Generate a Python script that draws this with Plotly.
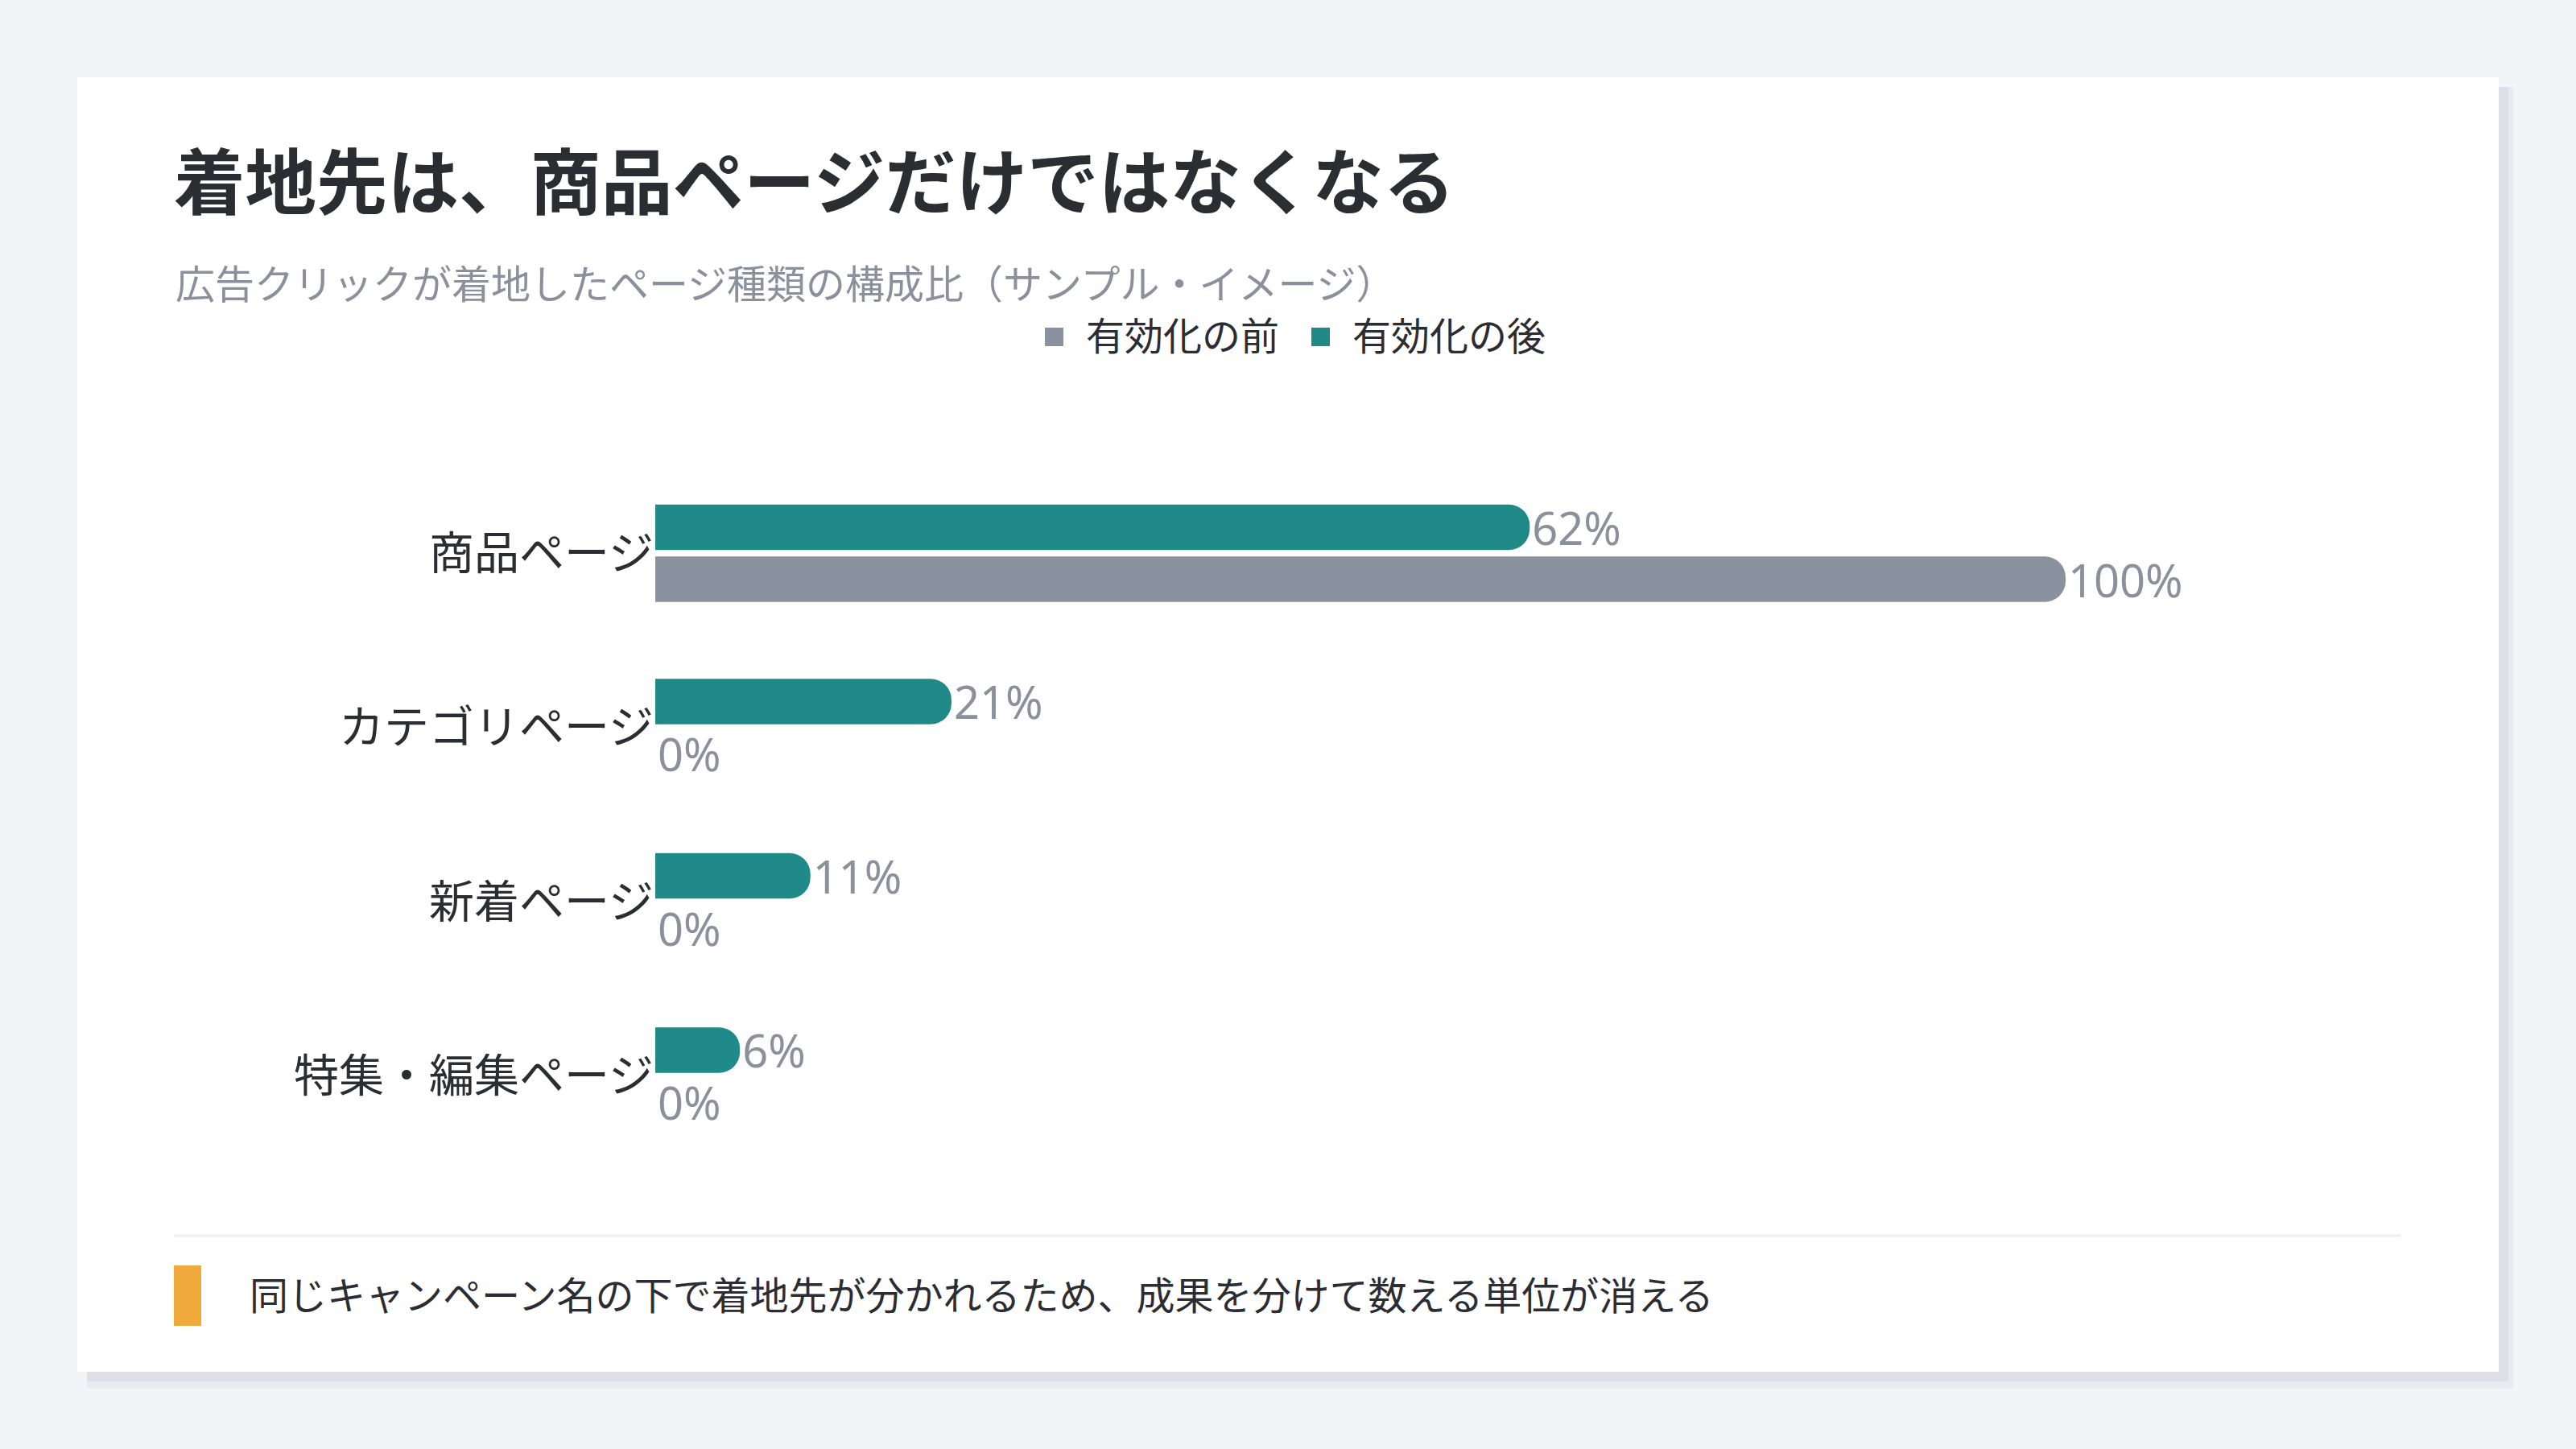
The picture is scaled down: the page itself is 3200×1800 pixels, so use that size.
import plotly.graph_objects as go

W, H = 3200, 1800

categories = ["商品ページ", "カテゴリページ", "新着ページ", "特集・編集ページ"]
before_vals = [100, 0, 0, 0]
after_vals = [62, 21, 11, 6]
series_names = ["有効化の前", "有効化の後"]

title_text = "着地先は、商品ページだけではなくなる"
subtitle_text = "広告クリックが着地したページ種類の構成比（サンプル・イメージ）"
footer_text = "同じキャンペーン名の下で着地先が分かれるため、成果を分けて数える単位が消える"

GRAY = "#8a929f"
TEAL = "#1f8a87"
LABEL = "#8a909c"
DARK = "#2b2d33"
FONT = "Noto Sans CJK JP"


def px(x):
    return x / W


def py(y):
    return 1 - y / H


fig = go.Figure()
for name, vals, col in [(series_names[0], before_vals, GRAY), (series_names[1], after_vals, TEAL)]:
    fig.add_trace(go.Bar(
        y=categories, x=vals, name=name, orientation="h",
        marker=dict(color=col, cornerradius=26, line=dict(width=0)),
        text=[f"{v}%" for v in vals], textposition="outside",
        textfont=dict(size=56, color=LABEL, family="Noto Sans, " + FONT),
        constraintext="none", cliponaxis=False, showlegend=False,
    ))

x0_px = 814
unit = 17.52
xmax = 120
shapes = [
    dict(type="rect", xref="paper", yref="paper", x0=px(108), x1=px(3122), y0=py(1725), y1=py(108),
         fillcolor="#e9ebf0", line=dict(width=0), layer="below"),
    dict(type="rect", xref="paper", yref="paper", x0=px(108), x1=px(3116), y0=py(1716), y1=py(108),
         fillcolor="#dde0e6", line=dict(width=0), layer="below"),
    dict(type="rect", xref="paper", yref="paper", x0=px(96), x1=px(3104), y0=py(1704), y1=py(96),
         fillcolor="white", line=dict(width=0), layer="below"),
    dict(type="line", xref="paper", yref="paper", x0=px(216), x1=px(2982), y0=py(1535), y1=py(1535),
         line=dict(color="#eceef2", width=3)),
    dict(type="rect", xref="paper", yref="paper", x0=px(216), x1=px(250), y0=py(1647), y1=py(1572),
         fillcolor="#f0aa3c", line=dict(width=0)),
    dict(type="rect", xref="paper", yref="paper", x0=px(1298), x1=px(1321), y0=py(430), y1=py(407),
         fillcolor=GRAY, line=dict(width=0)),
    dict(type="rect", xref="paper", yref="paper", x0=px(1629), x1=px(1652), y0=py(430), y1=py(407),
         fillcolor=TEAL, line=dict(width=0)),
]

annotations = [
    dict(text=f"<b>{title_text}</b>", x=px(214), y=py(220), xref="paper", yref="paper",
         xanchor="left", yanchor="middle", showarrow=False,
         font=dict(size=88.5, color=DARK, family=FONT)),
    dict(text=subtitle_text, x=px(216), y=py(349), xref="paper", yref="paper",
         xanchor="left", yanchor="middle", showarrow=False,
         font=dict(size=49, color=LABEL, family=FONT)),
    dict(text=series_names[0], x=px(1347), y=py(414), xref="paper", yref="paper",
         xanchor="left", yanchor="middle", showarrow=False,
         font=dict(size=48, color=DARK, family=FONT)),
    dict(text=series_names[1], x=px(1678), y=py(414), xref="paper", yref="paper",
         xanchor="left", yanchor="middle", showarrow=False,
         font=dict(size=48, color=DARK, family=FONT)),
    dict(text=footer_text, x=px(308), y=py(1606), xref="paper", yref="paper",
         xanchor="left", yanchor="middle", showarrow=False,
         font=dict(size=48, color=DARK, family=FONT)),
]

fig.update_layout(
    width=W, height=H, margin=dict(l=0, r=0, t=0, b=0),
    paper_bgcolor="#f3f4f8", plot_bgcolor="rgba(0,0,0,0)",
    barmode="group", bargap=0.404, bargroupgap=0.123,
    shapes=shapes, annotations=annotations,
    xaxis=dict(domain=[px(x0_px), px(x0_px + xmax * unit)], range=[0, xmax], visible=False,
               fixedrange=True),
    yaxis=dict(domain=[py(1445), py(579)], categoryorder="array", categoryarray=categories[::-1],
               showgrid=False, zeroline=False, showline=False, ticks="", ticklabelstandoff=1,
               tickfont=dict(size=56, color=DARK, family=FONT)),
    font=dict(family=FONT),
)

fig.write_html("out.html")
